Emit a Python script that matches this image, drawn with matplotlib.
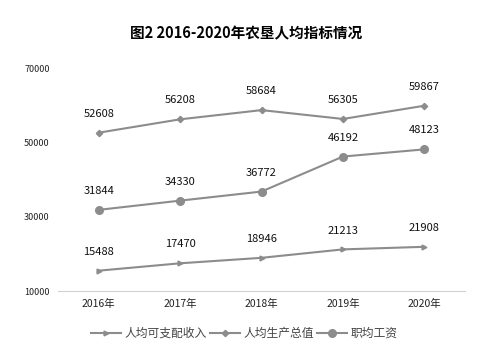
import matplotlib
matplotlib.use('Agg')
import matplotlib.pyplot as plt

plt.rcParams['font.family'] = ['Noto Sans CJK SC', 'DejaVu Sans']

years = ['2016年', '2017年', '2018年', '2019年', '2020年']
income = [15488, 17470, 18946, 21213, 21908]
gdp_per = [52608, 56208, 58684, 56305, 59867]
wage = [31844, 34330, 36772, 46192, 48123]
yticks = [10000, 30000, 50000, 70000]

gray = '#8c8c8c'

fig = plt.figure(figsize=(4.79, 3.49), dpi=100)
ax = fig.add_axes([0.121, 0.166, 0.850, 0.639])

x = range(len(years))
ax.plot(x, income, color=gray, lw=1.5, marker='>', ms=3.5, label='人均可支配收入')
ax.plot(x, gdp_per, color=gray, lw=1.5, marker='D', ms=3.2, label='人均生产总值')
ax.plot(x, wage, color=gray, lw=1.5, marker='o', ms=5.5, label='职均工资')

for series in (income, gdp_per, wage):
    for i, v in enumerate(series):
        ax.annotate(str(v), (i, v), xytext=(0, 10), textcoords='offset points',
                    ha='center', va='bottom', fontsize=8, color='#111111')

ax.set_xlim(-0.5, 4.5)
ax.set_ylim(10000, 70000)
ax.set_yticks(yticks)
ax.set_yticklabels([str(t) for t in yticks], fontsize=6.5)
ax.set_xticks(list(x))
ax.set_xticklabels(years, fontsize=7.5)
ax.tick_params(length=0, pad=6, colors='#222222')
for s in ['top', 'right', 'left']:
    ax.spines[s].set_visible(False)
ax.spines['bottom'].set_color('#d0d0d0')

fig.text(0.514, 0.905, '图2 2016-2020年农垦人均指标情况', ha='center', va='center',
         fontsize=10.5, fontweight='bold')

fig.legend(loc='center', bbox_to_anchor=(0.51, 0.045), ncol=3, frameon=False,
           fontsize=8.5, handlelength=2.5, columnspacing=0.3, handletextpad=0.3,
           labelcolor='#444444')

fig.savefig('out.png', dpi=100)
